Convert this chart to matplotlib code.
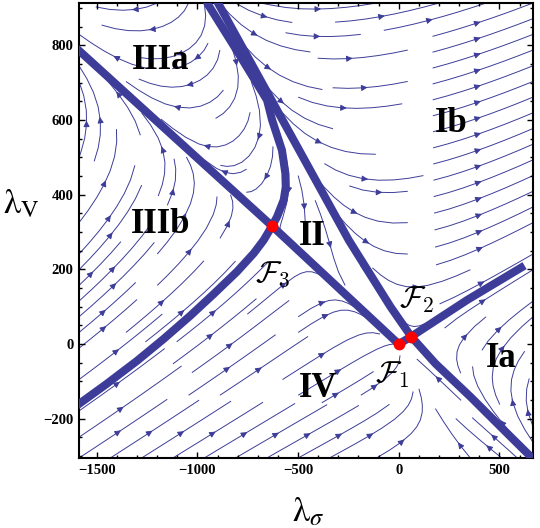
"""RG flow in the (lambda_sigma, lambda_V) plane with separatrices and fixed points."""
import matplotlib

matplotlib.use("Agg")
import matplotlib.pyplot as plt
import numpy as np
from matplotlib.ticker import MultipleLocator

BLUE = "#3d3d99"
SERIF = "Liberation Serif"

# fixed points (lambda_sigma, lambda_V)
fp_sigma = [0, 62, -629]
fp_v = [0, 20, 316]
fp_names = [r"$\mathcal{F}_1$", r"$\mathcal{F}_2$", r"$\mathcal{F}_3$"]
fp_label_sigma = [-31, 88, -628]
fp_label_v = [-104, 96, 166]

# tangents of the F2 separatrix, used to pin the flow model
tan_sigma = [-740, -224]
tan_v = [730, 243]
tan_dsigma = [1.0, 1.0]
tan_dv = [-1.04, -0.825]

# separatrices (thick lines)
sep_a_sigma = [-1650, -629, 0]
sep_a_v = [816, 316, 0]
sep_b_sigma = [-905, -522, -248, -41, 62]
sep_b_v = [920, 546, 278, 100, 20]
sep_b2_sigma = [62, 182, 356, 522, 700]
sep_b2_v = [20, -52, -141, -230, -325]
sep_c_sigma = [-965, -946, -800, -654, -629, -580, -563, -561, -571, -604, -629,
               -671, -720, -803, -919, -1035, -1167, -1300, -1449, -1600]
sep_c_v = [930, 908, 782, 653, 600, 519, 457, 421, 386, 341, 316,
           278, 243, 194, 134, 76, 14, -45, -106, -165]
sep_e_sigma = [0, 62, 340, 625]
sep_e_v = [0, 20, 118, 210]

# region labels
region_names = ["IIIa", "Ib", "IIIb", "II", "IV", "Ia"]
region_sigma = [-1184, 263, -1184, -428, -398, 510]
region_v = [736, 568, 297, 265, -142, -62]

X_LIM = (-1588, 667)
Y_LIM = (-305, 913)


def fit_flow():
    # beta = -lam + quadratic(lam), quadratic part fixed by F2, F3 and the two tangents
    rows, rhs = [], []
    for s, v in zip(fp_sigma[1:], fp_v[1:]):
        X, Y = s / 100, v / 100
        rows.append([X * X, X * Y, Y * Y, 0, 0, 0])
        rhs.append(X)
        rows.append([0, 0, 0, X * X, X * Y, Y * Y])
        rhs.append(Y)
    for s, v, ts, tv in zip(tan_sigma, tan_v, tan_dsigma, tan_dv):
        X, Y = s / 100, v / 100
        q = np.array([X * X, X * Y, Y * Y])
        rows.append(list(q * tv) + list(-q * ts))
        rhs.append(X * tv - Y * ts)
    return np.linalg.solve(np.array(rows), np.array(rhs))


a, b, c, d, e, f = fit_flow()
xs = np.linspace(X_LIM[0], X_LIM[1], 240)
ys = np.linspace(Y_LIM[0], Y_LIM[1], 240)
S, V = np.meshgrid(xs, ys)
X, Y = S / 100, V / 100
U = -X + a * X * X + b * X * Y + c * Y * Y
W = -Y + d * X * X + e * X * Y + f * Y * Y

fig = plt.figure(figsize=(5.4, 5.28), dpi=100)
ax = fig.add_axes([79 / 540, 70 / 528, 454 / 540, 455 / 528])

ax.streamplot(xs, ys, U, W, density=1.0, color=BLUE, linewidth=0.7,
              arrowsize=0.9, arrowstyle="-|>", maxlength=0.5, zorder=1)

for sx, sy in [(sep_a_sigma, sep_a_v), (sep_b_sigma, sep_b_v), (sep_b2_sigma, sep_b2_v),
               (sep_c_sigma, sep_c_v), (sep_e_sigma, sep_e_v)]:
    ax.plot(sx, sy, color=BLUE, lw=5.8, solid_capstyle="butt", solid_joinstyle="round", zorder=3)

ax.plot(fp_sigma, fp_v, "o", ms=8.5, color="red", mec="none", zorder=5)

for name, sx, sy in zip(fp_names, fp_label_sigma, fp_label_v):
    ax.text(sx, sy, name, fontsize=22, ha="center", va="baseline", math_fontfamily="cm", zorder=6)

for name, sx, sy in zip(region_names, region_sigma, region_v):
    ax.text(sx, sy, name, fontsize=25, fontfamily=SERIF, fontweight="bold",
            ha="center", va="baseline", zorder=6)

ax.set_xlim(*X_LIM)
ax.set_ylim(*Y_LIM)
ax.set_xticks([-1500, -1000, -500, 0, 500])
ax.set_yticks([-200, 0, 200, 400, 600, 800])
ax.xaxis.set_minor_locator(MultipleLocator(100))
ax.yaxis.set_minor_locator(MultipleLocator(50))
ax.tick_params(which="both", direction="in", top=True, right=True, width=1.0)
ax.tick_params(which="major", length=4, pad=4)
ax.tick_params(which="minor", length=2.5)
for lab in ax.get_xticklabels() + ax.get_yticklabels():
    lab.set_fontfamily(SERIF)
    lab.set_fontweight("bold")
    lab.set_fontsize(10.5)
for sp in ax.spines.values():
    sp.set_linewidth(1.5)

fig.text(21 / 540, 1 - 213 / 528, r"$\mathrm{\lambda}_{\mathrm{V}}$", fontsize=25,
         ha="center", va="baseline", math_fontfamily="stix")
fig.text(308 / 540, 1 - 521 / 528, r"$\mathrm{\lambda}_{\sigma}$", fontsize=25,
         ha="center", va="baseline", math_fontfamily="stix")

fig.savefig("out.png", dpi=100)
